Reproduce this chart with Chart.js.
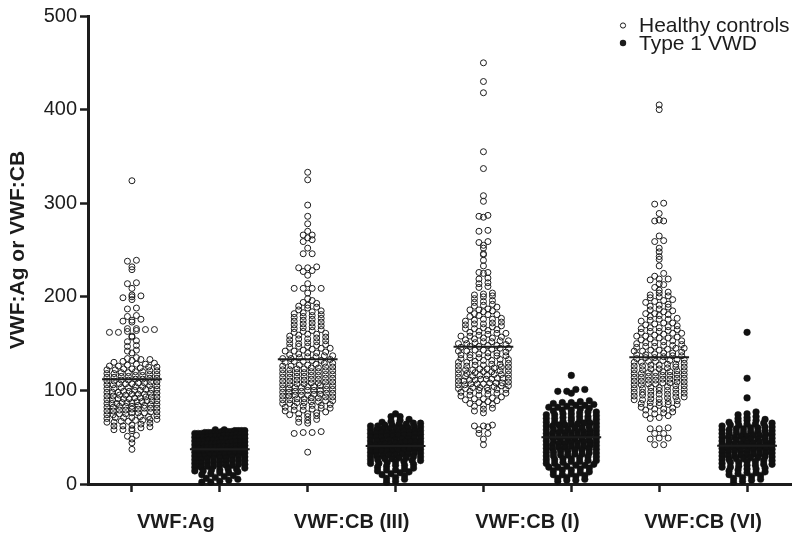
<!DOCTYPE html>
<html>
<head>
<meta charset="utf-8">
<script src="https://cdn.jsdelivr.net/npm/chart.js@4/dist/chart.umd.min.js"></script>
<style>
  html, body { margin: 0; padding: 0; background: #ffffff; }
  #wrap { width: 800px; height: 541px; position: relative; }
</style>
</head>
<body>
<div id="wrap"><canvas id="c" width="800" height="541"></canvas></div>
<script>
// ---------------- data ----------------
const categories = ['VWF:Ag', 'VWF:CB (III)', 'VWF:CB (I)', 'VWF:CB (VI)'];
const seriesNames = ['Healthy controls', 'Type 1 VWD'];
const yTickValues = [0, 100, 200, 300, 400, 500];

const healthyAg = [324,239,238,232,229,215,214,209,202,201,200,199,197,188,187,180,179,176,175,174,173,166,166,165,165,164,163,162,162,158,157,153,152,148,147,143,142,140,
135,134,133,133,132,131,130,129,128,128,127,126,126,125,125,124,123,123,122,122,121,121,
120,120,119,119,118,118,117,117,116,116,115,115,114,114,113,113,112,112,111,111,
110,110,109,109,108,108,107,107,107,106,106,105,105,104,104,103,103,102,102,101,101,101,
100,100,99,99,98,98,98,97,97,96,96,96,95,95,94,94,93,93,93,92,92,91,91,91,
90,90,89,89,89,88,88,87,87,87,86,86,86,85,85,84,84,83,83,83,82,82,81,81,81,
80,80,79,79,78,78,77,77,76,76,76,75,75,74,74,73,72,72,71,71,71,
70,69,69,68,68,67,67,66,66,65,64,63,62,62,61,60,59,58,58,57,52,51,48,44,37];

const type1Ag = [58,58,57,57,57,57,56,56,56,56,55,55,55,55,55,
54,54,54,53,53,53,52,52,52,51,51,51,50,50,50,50,
49,49,49,48,48,48,47,47,47,46,46,46,45,45,45,45,
44,44,44,43,43,43,42,42,42,41,41,41,40,40,40,40,
39,39,39,38,38,38,37,37,37,36,36,36,35,35,35,
34,34,34,33,33,33,32,32,31,31,31,30,30,30,
29,29,29,28,28,27,27,26,26,25,25,25,
24,24,23,23,22,22,21,21,20,20,20,
19,19,18,18,17,16,16,15,15,14,14,13,12,12,11,10,9,8,7,6,5,4,3,2,2];

const healthyCB3 = [333,325,298,286,278,270,266,266,263,261,259,252,246,246,232,231,231,228,227,223,214,209,209,209,209,204,
198,196,194,193,191,190,189,188,186,185,184,183,182,181,180,179,178,177,176,175,174,173,172,171,170,169,168,167,166,165,164,
163,162,161,160,160,159,158,157,156,155,155,154,153,152,151,150,150,149,
148,147,147,146,145,145,144,143,142,142,141,140,140,139,
138,137,137,136,136,135,134,134,133,132,132,131,131,130,129,129,
128,127,127,126,126,125,125,124,124,123,123,122,122,121,121,120,120,119,119,
118,118,117,117,116,116,115,115,114,114,113,113,112,112,111,111,110,110,109,109,
108,108,107,107,106,106,105,105,105,104,104,103,103,102,102,101,101,100,100,100,99,99,
98,98,97,97,96,96,95,95,95,94,94,93,93,92,92,91,91,90,90,89,89,
88,88,87,87,86,86,85,84,84,83,83,82,81,81,80,79,79,
78,77,76,75,75,74,73,72,70,69,68,66,65,56,55,55,54,34];

const type1CB3 = [75,72,72,69,68,67,66,65,65,
64,64,63,63,62,62,61,61,60,60,60,
59,59,58,58,57,57,56,56,56,55,55,55,
54,54,53,53,52,52,52,51,51,50,50,50,
49,49,48,48,47,47,46,46,46,45,45,45,45,
44,44,43,43,42,42,42,41,41,40,40,40,40,
39,39,38,38,37,37,37,36,36,35,35,35,
34,34,33,33,32,32,31,31,30,30,30,
29,29,28,28,27,27,26,26,25,25,
24,24,23,22,22,21,20,20,19,18,17,16,15,15,
14,13,12,11,10,9,7,6,5,3,2];

const healthyCB1 = [450,430,418,355,337,308,302,287,286,285,271,270,259,258,255,252,246,245,239,233,226,226,225,220,219,215,214,211,210,204,203,202,201,
200,198,196,195,194,192,191,190,189,187,186,186,185,184,182,181,181,180,
179,177,176,176,175,174,173,172,171,171,170,
169,168,167,166,166,165,164,163,162,161,161,160,
159,158,158,157,156,156,155,154,153,153,152,152,151,150,150,
149,148,148,147,147,146,145,145,144,143,143,142,142,141,140,140,
139,138,138,137,137,136,135,135,134,133,133,132,132,131,130,130,
129,128,128,127,127,126,126,125,125,124,123,123,122,122,122,121,121,120,120,
119,118,118,117,117,117,116,116,115,115,114,113,113,113,112,112,112,111,111,110,110,
109,108,108,108,107,107,107,106,106,105,105,104,103,103,103,102,102,101,101,100,100,
99,98,97,97,96,95,95,94,93,92,91,91,90,89,88,87,86,85,84,83,81,80,
78,76,63,62,62,61,58,54,54,48,42];

const type1CB1 = [116,101,101,99,99,97,89,88,87,87,86,85,
84,84,83,82,82,81,80,79,79,78,77,77,76,75,75,
74,74,73,72,72,71,71,70,70,69,69,68,68,67,66,66,65,65,65,
64,64,63,63,62,62,61,61,60,60,59,59,58,58,57,57,56,56,55,55,55,
54,54,53,53,52,52,51,51,50,50,50,49,49,48,48,47,47,46,46,45,45,45,
44,44,43,43,42,42,41,41,40,40,40,39,39,38,38,37,37,36,36,35,35,
34,34,33,33,32,32,31,31,30,30,29,29,28,27,27,26,26,25,25,
24,24,23,22,22,21,20,20,19,18,18,17,16,15,15,
14,13,12,11,10,10,9,8,7,6,5,4,4,3];

const healthyCB6 = [405,400,300,299,289,282,281,281,265,260,259,252,248,243,240,233,225,222,219,219,218,214,213,
210,207,205,204,202,201,200,199,197,196,195,194,192,191,190,
189,187,186,185,184,182,182,181,180,179,177,176,176,175,
174,172,172,171,170,169,168,167,167,166,165,
164,163,163,162,161,161,160,159,158,158,157,156,156,155,
154,153,153,152,151,151,150,149,148,148,147,147,146,145,145,
144,143,143,142,142,141,140,140,139,138,138,137,137,136,135,135,
134,133,133,132,132,131,131,130,130,129,128,128,127,127,126,126,125,125,
124,123,123,122,122,121,121,120,120,119,119,118,118,117,117,116,116,115,115,
114,114,113,113,112,112,111,111,110,110,109,109,108,108,107,107,106,106,105,105,
104,103,103,102,102,101,101,100,100,99,98,98,97,97,96,96,95,95,
94,93,93,92,91,91,90,90,89,88,87,87,86,85,85,84,83,82,81,80,80,
79,77,76,75,74,73,71,70,60,59,59,54,54,49,49,48,42,42];

const type1CB6 = [162,113,92,77,75,74,72,71,70,
69,68,68,67,66,65,65,64,64,63,63,62,61,61,60,60,
59,59,58,58,57,57,56,56,55,55,54,54,53,53,52,52,51,51,50,50,50,
49,49,48,48,47,47,46,46,45,45,45,44,44,43,43,42,42,41,41,40,40,40,40,
39,39,38,38,37,37,36,36,35,35,35,34,34,33,33,32,32,31,31,30,30,30,
29,29,28,28,27,27,26,26,25,25,24,24,23,23,22,21,21,20,20,
19,18,18,17,16,16,15,14,13,12,12,11,10,9,8,7,6,5,4,3,2];

// group means (horizontal bars), in column order
const meanValues = [111.9, 37.0, 133.2, 40.6, 146.7, 49.9, 135.4, 40.9];

// ---------------- layout helpers ----------------
const healthyGroups = [healthyAg, healthyCB3, healthyCB1, healthyCB6];
const type1Groups = [type1Ag, type1CB3, type1CB1, type1CB6];
const PX_PER_UNIT = 87.9;   // approx. horizontal pixels per column
const BIN = 4;              // value bin for one swarm row
const MAX_STEP = 9;         // px between neighbours in a row
const MAX_SPAN = 50;        // px, full width of a row (centre to centre)

function swarm(values, col) {
  const bins = new Map();
  values.forEach(v => {
    const k = Math.round(v / BIN);
    if (!bins.has(k)) bins.set(k, []);
    bins.get(k).push(v);
  });
  const pts = [];
  bins.forEach(arr => {
    arr.sort((a, b) => a - b);
    const n = arr.length;
    const step = n > 1 ? Math.min(MAX_STEP, MAX_SPAN / (n - 1)) : 0;
    arr.forEach((v, i) => {
      const off = (i - (n - 1) / 2) * step;
      pts.push({ x: col + off / PX_PER_UNIT, y: v });
    });
  });
  return pts;
}

const healthyPts = [];
healthyGroups.forEach((g, i) => healthyPts.push(...swarm(g, 1 + 2 * i)));
const type1Pts = [];
type1Groups.forEach((g, i) => type1Pts.push(...swarm(g, 2 + 2 * i)));

const FONT = '"Liberation Sans", Arial, Helvetica, sans-serif';
const INK = '#1c1c1c';

const meanDatasets = meanValues.map((m, i) => ({
  type: 'line',
  data: [{ x: i + 1 - 0.34, y: m }, { x: i + 1 + 0.34, y: m }],
  borderColor: INK,
  borderWidth: 2,
  pointRadius: 0,
  fill: false,
  order: 0,
  clip: false
}));

const legendPlugin = {
  id: 'refLegend',
  afterDraw(chart) {
    const ctx = chart.ctx;
    ctx.save();
    ctx.font = '21px ' + FONT;
    ctx.fillStyle = INK;
    ctx.textBaseline = 'alphabetic';
    ctx.textAlign = 'left';
    ctx.fillText(seriesNames[0], 639, 32);
    ctx.fillText(seriesNames[1], 639, 50);
    ctx.strokeStyle = INK;
    ctx.lineWidth = 1;
    ctx.beginPath();
    ctx.arc(623, 25.5, 2.6, 0, Math.PI * 2);
    ctx.stroke();
    ctx.beginPath();
    ctx.arc(623, 43, 3.2, 0, Math.PI * 2);
    ctx.fill();
    ctx.restore();
  }
};

const xTickValues = [1, 1.5, 2, 3, 3.5, 4, 5, 5.5, 6, 7, 7.5, 8];

new Chart(document.getElementById('c'), {
  type: 'scatter',
  data: {
    datasets: [
      {
        label: seriesNames[0],
        data: healthyPts,
        pointStyle: 'circle',
        pointRadius: 3,
        pointHoverRadius: 3,
        pointBorderWidth: 1,
        pointBorderColor: INK,
        pointBackgroundColor: 'rgba(255,255,255,0)',
        order: 1,
        clip: false
      },
      {
        label: seriesNames[1],
        data: type1Pts,
        pointStyle: 'circle',
        pointRadius: 3.3,
        pointHoverRadius: 3.3,
        pointBorderWidth: 0.5,
        pointBorderColor: '#111',
        pointBackgroundColor: '#111',
        order: 1,
        clip: false
      },
      ...meanDatasets
    ]
  },
  options: {
    responsive: false,
    animation: false,
    devicePixelRatio: 1,
    layout: { padding: { left: 0, right: 9, top: 16, bottom: 0 } },
    plugins: {
      legend: { display: false },
      tooltip: { enabled: false }
    },
    scales: {
      x: {
        type: 'linear',
        min: 0.5,
        max: 8.5,
        afterBuildTicks(scale) {
          scale.ticks = xTickValues.map(v => ({ value: v }));
        },
        afterFit(scale) { scale.height = 57; },
        ticks: {
          autoSkip: false,
          maxRotation: 0,
          minRotation: 0,
          padding: 18,
          color: INK,
          font: { family: FONT, size: 20, weight: 'bold' },
          callback(value) {
            if (Number.isInteger(value)) return '';
            return categories[Math.round((value - 1.5) / 2)];
          }
        },
        grid: {
          display: true,
          drawOnChartArea: false,
          drawTicks: true,
          tickLength: 8,
          tickWidth: 2.5,
          tickColor: ctx => (ctx.tick && Number.isInteger(ctx.tick.value)) ? INK : 'rgba(0,0,0,0)'
        },
        border: { display: true, color: INK, width: 3 }
      },
      y: {
        type: 'linear',
        min: 0,
        max: 500,
        afterBuildTicks(scale) {
          scale.ticks = yTickValues.map(v => ({ value: v }));
        },
        afterFit(scale) { scale.width = 88; },
        ticks: {
          padding: 3,
          color: INK,
          font: { family: FONT, size: 20 }
        },
        grid: {
          display: true,
          drawOnChartArea: false,
          drawTicks: true,
          tickLength: 8,
          tickWidth: 2.5,
          tickColor: INK
        },
        border: { display: true, color: INK, width: 3 },
        title: {
          display: true,
          text: 'VWF:Ag or VWF:CB',
          color: INK,
          font: { family: FONT, size: 21, weight: 'bold', lineHeight: 1 },
          padding: { top: 8, bottom: 0 }
        }
      }
    }
  },
  plugins: [legendPlugin]
});
</script>
</body>
</html>
